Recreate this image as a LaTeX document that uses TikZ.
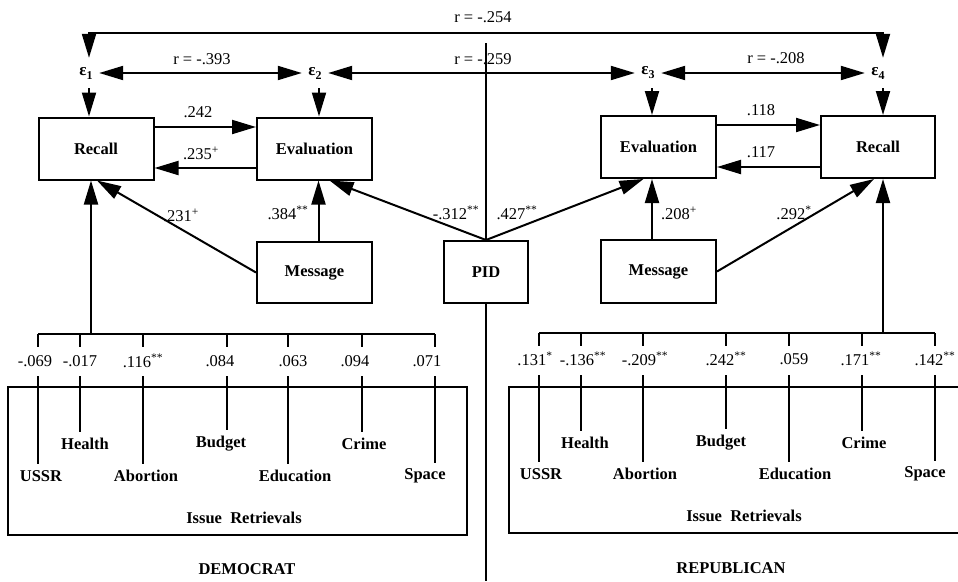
\documentclass[tikz,border=0pt]{standalone}
\usepackage{fontspec}
\setmainfont{Liberation Serif}
\usetikzlibrary{arrows.meta}
\newcommand{\epsl}[1]{\textbf{ε}\raisebox{-4pt}{\fontsize{12}{13}\selectfont\bfseries #1}}
\begin{document}
\begin{tikzpicture}[x=1pt,y=-1pt,
  font=\fontsize{16.5}{19}\selectfont,
  >={Triangle[length=24pt,width=14pt]},
  conn/.style={line width=2pt,->},
  dconn/.style={line width=2pt,<->},
  plain/.style={line width=2pt},
  divider/.style={line width=1.2pt},
  box/.style={draw,line width=2pt,minimum width=115pt,minimum height=62pt,inner sep=0pt,font=\fontsize{16.5}{19}\selectfont\bfseries},
  eps/.style={inner sep=0pt,minimum width=26pt,minimum height=30pt,font=\fontsize{17}{19}\selectfont},
  lab/.style={inner sep=0pt},
  itm/.style={inner sep=0pt,outer sep=6pt,font=\fontsize{16.5}{19}\selectfont\bfseries},
]
\useasboundingbox (0,0) rectangle (958,581);

% boxes
\node[box] (recL) at (96,148.5) {Recall};
\node[box] (evL)  at (314.5,148.5) {Evaluation};
\node[box,minimum height=61pt] (msgL) at (314.5,272.5) {Message};
\node[box,minimum width=84pt] (pid) at (486,272) {PID};
\node[box] (evR)  at (658.5,147) {Evaluation};
\node[box,minimum width=114pt] (recR) at (878,147) {Recall};
\node[box,minimum height=63pt] (msgR) at (658.5,271.5) {Message};

% error terms
\node[eps] (e1) at (86,73) {\epsl{1}};
\node[eps] (e2) at (315,73) {\epsl{2}};
\node[eps] (e3) at (648,73) {\epsl{3}};
\node[eps] (e4) at (878,73) {\epsl{4}};
\coordinate (topc) at (0,33);

% divider
\coordinate (dtop) at (486,43);
\coordinate (dbot) at (486,581);
\draw[divider] (dtop) -- (dtop |- pid.north);
\draw[divider] (dtop |- pid.south) -- (dbot);

% correlations
\draw[dconn] ([xshift=3pt]e1.north) -- ([xshift=3pt]e1.north |- topc) -- ([xshift=5pt]e4.north |- topc) -- ([xshift=5pt]e4.north);
\node[lab] at (483,17) {r = -.254};
\draw[dconn] (e1) -- (e2);
\node[lab] at (202,59) {r = -.393};
\draw[dconn] (e2) -- (e3);
\node[lab] at (483,59) {r = -.259};
\draw[dconn] (e3) -- (e4);
\node[lab] at (776,58) {r = -.208};

% error to box
\draw[conn] ([xshift=3pt]e1.south) -- ([xshift=3pt]e1.south |- recL.north);
\draw[conn] ([xshift=4pt]e2.south) -- ([xshift=4pt]e2.south |- evL.north);
\draw[conn] ([xshift=4pt]e3.south) -- ([xshift=4pt]e3.south |- evR.north);
\draw[conn] ([xshift=5pt]e4.south) -- ([xshift=5pt]e4.south |- recR.north);

% reciprocal paths
\draw[conn] ([yshift=21.5pt]recL.east) -- ([yshift=21.5pt]evL.west);
\draw[conn] ([yshift=-19.5pt]evL.west) -- ([yshift=-19.5pt]recL.east);
\node[lab] at (198,112) {.242};
\node[lab] at (201,153) {.235\textsuperscript{+}};
\draw[conn] ([yshift=22pt]evR.east) -- ([yshift=22pt]recR.west);
\draw[conn] ([yshift=-20pt]recR.west) -- ([yshift=-20pt]evR.east);
\node[lab] at (761,110) {.118};
\node[lab] at (761,152) {.117};

% message and PID paths
\draw[conn] (msgL.west) -- ([xshift=1pt]recL.south);
\node[lab] at (181,215) {.231\textsuperscript{+}};
\draw[conn] ([xshift=4pt]msgL.north) -- ([xshift=4pt]evL.south);
\node[lab] at (288,213) {.384\textsuperscript{**}};
\draw[conn] (pid.north) -- ([xshift=15pt]evL.south);
\node[lab] at (456,213) {-.312\textsuperscript{**}};
\draw[conn] (pid.north) -- ([xshift=-15pt]evR.south);
\node[lab] at (517,213) {.427\textsuperscript{**}};
\draw[conn] ([xshift=-6.5pt]msgR.north) -- ([xshift=-6.5pt]evR.south);
\node[lab] at (679,213) {.208\textsuperscript{+}};
\draw[conn] (msgR.east) -- ([xshift=-4pt]recR.south);
\node[lab] at (794,213) {.292\textsuperscript{*}};

% ---------- Democrat issue retrievals
\draw[line width=2pt] (8,387) rectangle (467,535);
\coordinate (ltL) at (0,376);
\foreach \n/\x in {1/38,2/80,3/143,4/227,5/288,6/362,7/435}
  \coordinate (tL\n) at (\x,334);
\draw[plain] (tL1) -- (tL7);
\foreach \n in {1,...,7} \draw[plain] (tL\n) -- ++(0,13);
\coordinate (bL) at (91,334);
\draw[conn] (bL) -- ([xshift=-5pt]recL.south);
\node[lab] (cL1) at (35,361) {-.069};
\node[lab] (cL2) at (80,361) {-.017};
\node[lab] (cL3) at (143,361) {.116\textsuperscript{**}};
\node[lab] (cL4) at (220,361) {.084};
\node[lab] (cL5) at (293,361) {.063};
\node[lab] (cL6) at (355,361) {.094};
\node[lab] (cL7) at (427,361) {.071};
\node[itm] (iL1) at (41,476) {USSR};
\node[itm] (iL2) at (85,444) {Health};
\node[itm] (iL3) at (146,476) {Abortion};
\node[itm] (iL4) at (221,444) {Budget};
\node[itm] (iL5) at (295,476) {Education};
\node[itm] (iL6) at (364,444) {Crime};
\node[itm] (iL7) at (425,476) {Space};
\foreach \n in {1,...,7} \draw[plain] (tL\n |- ltL) -- (tL\n |- iL\n.north);
\node[itm,outer sep=0pt] (irL) at (244,518) {Issue\ \ Retrievals};
\node[itm,outer sep=0pt] (dem) at (247,569) {DEMOCRAT};

% ---------- Republican issue retrievals
\draw[line width=2pt] (958,387) -- (509,387) -- (509,533) -- (958,533);
\coordinate (ltR) at (0,375);
\foreach \n/\x in {1/539,2/581,3/643,4/726,5/789,6/862,7/935}
  \coordinate (tR\n) at (\x,333);
\draw[plain] (tR1) -- (tR7);
\foreach \n in {1,...,7} \draw[plain] (tR\n) -- ++(0,13);
\coordinate (bR) at (883,333);
\draw[conn] (bR) -- (bR |- recR.south);
\node[lab] (cR1) at (535,359) {.131\textsuperscript{*}};
\node[lab] (cR2) at (583,359) {-.136\textsuperscript{**}};
\node[lab] (cR3) at (645,359) {-.209\textsuperscript{**}};
\node[lab] (cR4) at (726,359) {.242\textsuperscript{**}};
\node[lab] (cR5) at (794,359) {.059};
\node[lab] (cR6) at (861,359) {.171\textsuperscript{**}};
\node[lab] (cR7) at (935,359) {.142\textsuperscript{**}};
\node[itm] (iR1) at (541,474) {USSR};
\node[itm] (iR2) at (585,443) {Health};
\node[itm] (iR3) at (645,474) {Abortion};
\node[itm] (iR4) at (721,443) {Budget};
\node[itm] (iR5) at (795,474) {Education};
\node[itm] (iR6) at (864,443) {Crime};
\node[itm] (iR7) at (925,474) {Space};
\foreach \n in {1,...,7} \draw[plain] (tR\n |- ltR) -- (tR\n |- iR\n.north);
\node[itm,outer sep=0pt] (irR) at (744,516) {Issue\ \ Retrievals};
\node[itm,outer sep=0pt] (rep) at (731,568) {REPUBLICAN};
\end{tikzpicture}
\end{document}
